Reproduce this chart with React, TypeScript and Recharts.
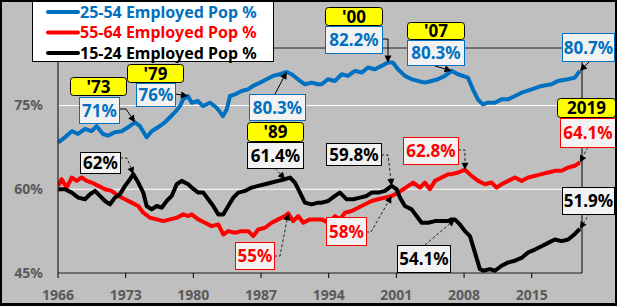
import React from 'react';
import { LineChart, Line, XAxis, YAxis, CartesianGrid, ReferenceLine, ReferenceDot } from 'recharts';

// ---------- data (year, employment-population ratio %) ----------
const emp2554: [number, number][] = [
  [1966.03, 68.4], [1966.72, 69.3], [1967.42, 70.4], [1968.07, 69.9], [1968.79, 70.8], [1969.48, 70.4],
  [1970.0, 71.3], [1970.65, 69.9], [1971.17, 69.6], [1971.89, 70.2], [1972.59, 70.4], [1973.24, 71.1],
  [1973.96, 72.0], [1974.48, 71.3], [1974.79, 70.4], [1975.17, 69.3], [1975.69, 70.4], [1976.34, 71.1],
  [1977.06, 72.0], [1977.58, 72.9], [1978.1, 73.8], [1978.62, 74.9], [1978.93, 76.1], [1979.44, 76.7],
  [1979.83, 75.5], [1980.48, 75.8], [1981.0, 74.9], [1981.72, 75.5], [1982.41, 74.6], [1983.06, 73.1],
  [1983.45, 74.3], [1983.79, 76.7], [1984.3, 77.0], [1985.0, 77.6], [1985.65, 77.9], [1986.17, 78.5],
  [1986.89, 79.1], [1987.58, 79.7], [1988.23, 80.3], [1988.96, 80.6], [1989.65, 81.0], [1990.17, 80.6],
  [1990.82, 79.7], [1991.54, 78.8], [1992.24, 79.1], [1992.89, 78.8], [1993.27, 78.8], [1993.92, 79.7],
  [1994.65, 79.4], [1995.34, 80.6], [1995.99, 80.3], [1996.71, 81.2], [1997.41, 80.9], [1998.06, 81.8],
  [1998.78, 81.5], [1999.47, 82.1], [2000.13, 82.7], [2000.64, 82.7], [2001.16, 81.5], [2001.88, 80.3],
  [2002.58, 79.7], [2003.23, 79.4], [2003.95, 79.1], [2004.64, 79.4], [2005.3, 79.7], [2006.02, 80.3],
  [2006.71, 81.2], [2007.37, 80.6], [2008.4, 80.0], [2008.92, 77.9], [2009.43, 76.1], [2009.95, 75.2],
  [2010.47, 75.5], [2011.19, 75.5], [2011.88, 76.1], [2012.54, 76.1], [2013.26, 76.7], [2013.95, 77.3],
  [2014.99, 77.9], [2016.02, 78.5], [2017.05, 78.8], [2017.7, 79.4], [2018.74, 79.7], [2019.46, 80.0],
  [2019.98, 81.2],
];

const emp5564: [number, number][] = [
  [1966.03, 60.6], [1966.38, 61.8], [1966.9, 60.3], [1967.42, 62.1], [1967.93, 61.5], [1968.45, 62.1],
  [1968.97, 61.5], [1969.48, 61.2], [1970.17, 60.6], [1970.86, 60.0], [1971.55, 59.7], [1972.24, 58.8],
  [1972.93, 58.2], [1973.62, 57.6], [1974.3, 57.0], [1974.82, 55.8], [1975.51, 54.9], [1976.21, 54.6],
  [1976.89, 54.3], [1977.58, 54.6], [1978.28, 54.9], [1978.96, 55.5], [1979.47, 55.2], [1979.83, 55.5],
  [1980.51, 54.6], [1981.2, 54.0], [1981.89, 53.4], [1982.58, 53.7], [1983.09, 51.9], [1983.61, 52.5],
  [1984.3, 52.2], [1985.0, 52.5], [1985.68, 52.5], [1986.2, 51.6], [1986.71, 52.8], [1987.41, 53.1],
  [1988.1, 54.0], [1988.78, 54.6], [1989.47, 55.2], [1989.82, 55.7], [1990.33, 54.3], [1990.85, 55.2],
  [1991.37, 54.0], [1992.06, 54.6], [1992.75, 54.6], [1993.27, 54.6], [1993.95, 54.0], [1994.65, 55.2],
  [1995.16, 54.6], [1995.68, 55.8], [1996.37, 56.1], [1997.05, 56.7], [1997.75, 57.3], [1998.44, 57.9],
  [1999.12, 58.2], [1999.82, 58.5], [2000.51, 58.8], [2001.19, 59.4], [2001.71, 60.0], [2002.23, 60.6],
  [2002.74, 61.2], [2003.44, 60.3], [2003.95, 61.2], [2004.47, 60.0], [2004.99, 61.5], [2005.68, 62.1],
  [2006.36, 62.7], [2006.71, 62.7], [2007.4, 63.0], [2008.09, 63.5], [2008.78, 62.4], [2009.46, 61.5],
  [2010.16, 60.9], [2010.85, 61.2], [2011.37, 60.3], [2011.88, 60.9], [2012.57, 61.5], [2013.26, 62.1],
  [2013.95, 61.5], [2014.64, 62.1], [2015.33, 62.4], [2016.02, 62.7], [2016.7, 63.0], [2017.4, 63.3],
  [2018.09, 63.3], [2018.77, 63.9], [2019.46, 64.2], [2019.98, 64.8],
];

const emp1524: [number, number][] = [
  [1966.03, 60.0], [1966.72, 60.0], [1967.42, 59.4], [1968.1, 58.5], [1968.79, 58.2], [1969.31, 59.1],
  [1969.83, 59.7], [1970.34, 58.8], [1970.86, 57.9], [1971.38, 57.3], [1971.89, 58.5], [1972.41, 59.1],
  [1972.93, 60.6], [1973.45, 61.8], [1973.79, 62.7], [1974.3, 61.2], [1974.82, 59.4], [1975.17, 57.0],
  [1975.69, 56.4], [1976.21, 57.0], [1976.72, 56.7], [1977.24, 57.9], [1977.76, 58.8], [1978.28, 60.9],
  [1978.79, 61.5], [1979.47, 60.9], [1979.83, 60.3], [1980.51, 59.4], [1981.03, 59.4], [1981.54, 58.2],
  [1982.06, 57.0], [1982.58, 55.5], [1983.09, 55.5], [1983.61, 57.0], [1984.13, 58.5], [1984.65, 59.4],
  [1985.34, 59.7], [1986.03, 60.3], [1986.71, 60.6], [1987.41, 60.9], [1988.1, 61.2], [1988.78, 61.5],
  [1989.47, 61.8], [1989.99, 62.1], [1990.51, 61.2], [1991.03, 59.4], [1991.54, 57.6], [1992.24, 57.3],
  [1992.92, 57.6], [1993.27, 57.6], [1993.95, 57.9], [1994.65, 58.8], [1995.16, 59.4], [1995.86, 58.2],
  [1996.54, 58.2], [1997.23, 58.5], [1997.92, 58.8], [1998.44, 59.4], [1999.12, 59.4], [1999.82, 59.7],
  [2000.51, 60.6], [2001.03, 60.0], [2001.37, 58.5], [2001.88, 57.0], [2002.58, 56.4], [2003.09, 55.2],
  [2003.61, 54.0], [2004.29, 54.0], [2004.99, 54.3], [2005.68, 54.3], [2006.36, 54.3], [2006.71, 54.6],
  [2007.05, 54.6], [2007.57, 53.7], [2008.09, 52.5], [2008.61, 51.6], [2009.12, 48.7], [2009.64, 45.7],
  [2009.98, 45.4], [2010.67, 45.7], [2011.19, 45.4], [2011.88, 46.3], [2012.57, 46.9], [2013.26, 47.2],
  [2013.95, 47.7], [2014.64, 48.7], [2015.33, 49.2], [2016.02, 49.8], [2016.7, 50.4], [2017.4, 51.0],
  [2018.09, 50.7], [2018.77, 51.0], [2019.46, 52.0], [2019.98, 52.9],
];

const seriesNames = ['25-54 Employed Pop %', '55-64 Employed Pop %', '15-24 Employed Pop %'];
const seriesColors = ['#0070C0', '#FF0000', '#000000'];
const seriesPoints = [emp2554, emp5564, emp1524];

const xTicks = [1966, 1973, 1980, 1987, 1994, 2001, 2008, 2015];
const yTicks = [45, 60, 75];
const xDomain: [number, number] = [1966, 2020.2];
const yDomain: [number, number] = [45, 85.3];

// ---------- annotations ----------
type Rect = [number, number, number, number];
type Callout = {
  series: number; year: number; label: string; box: Rect;
  tag?: string; tagBox?: Rect; path: [number, number][]; dashed: boolean;
};

const callouts: Callout[] = [
  { series: 0, year: 1973.96, tag: "'73", tagBox: [70, 77, 56, 18], label: '71%', box: [79, 97, 40, 26], path: [[119, 109], [126, 109]], dashed: false },
  { series: 0, year: 1979.44, tag: "'79", tagBox: [127, 64, 56, 18], label: '76%', box: [136, 83, 39, 23], path: [[175, 94], [182, 95]], dashed: false },
  { series: 0, year: 1989.65, label: '80.3%', box: [249, 94, 56, 26], path: [[275, 94]], dashed: false },
  { series: 2, year: 1989.47, tag: "'89", tagBox: [247, 122, 56, 19], label: '61.4%', box: [247, 142, 56, 26], path: [[275, 168]], dashed: true },
  { series: 2, year: 1973.79, label: '62%', box: [80, 152, 40, 21], path: [[120, 158], [127, 158]], dashed: true },
  { series: 1, year: 1989.82, label: '55%', box: [235, 242, 39, 27], path: [[274, 256], [280, 256]], dashed: true },
  { series: 1, year: 2000.51, label: '58%', box: [326, 217, 40, 28], path: [[366, 232], [371, 232]], dashed: true },
  { series: 2, year: 2000.51, label: '59.8%', box: [326, 143, 55, 22], path: [[381, 155], [388, 155]], dashed: true },
  { series: 1, year: 2008.09, label: '62.8%', box: [403, 137, 55, 27], path: [[458, 150], [465, 150]], dashed: true },
  { series: 2, year: 2007.05, label: '54.1%', box: [397, 245, 53, 27], path: [[425, 245]], dashed: true },
  { series: 0, year: 2000.13, tag: "'00", tagBox: [325, 7, 57, 18], label: '82.2%', box: [325, 26, 57, 27], path: [[382, 39], [388, 39]], dashed: false },
  { series: 0, year: 2006.71, tag: "'07", tagBox: [407, 22, 57, 17], label: '80.3%', box: [407, 40, 57, 25], path: [[435, 66]], dashed: false },
  { series: 0, year: 2019.98, label: '80.7%', box: [562, 33, 52, 28], path: [[590, 61]], dashed: false },
  { series: 1, year: 2019.98, tag: '2019', tagBox: [557, 98, 58, 19], label: '64.1%', box: [560, 118, 55, 29], path: [[588, 147]], dashed: true },
  { series: 2, year: 2019.98, label: '51.9%', box: [562, 187, 52, 27], path: [[590, 213]], dashed: true },
];

const FONT = '"Noto Sans", "Liberation Sans", Arial, sans-serif';
const BG = '#BFBFBF';
const AXIS_TEXT = '#5A5A5A';

const toData = (pts: [number, number][]) => pts.map(([year, value]) => ({ year, value }));

function valueAt(series: number, year: number): number {
  const pts = seriesPoints[series];
  let best = pts[0];
  for (const p of pts) if (Math.abs(p[0] - year) < Math.abs(best[0] - year)) best = p;
  return best[1];
}

function CalloutShape(props: any) {
  const { cx, cy, c } = props as { cx: number; cy: number; c: Callout };
  if (cx == null || cy == null) return <g />;
  const color = seriesColors[c.series];
  const pts = [...c.path];
  const [px, py] = pts[pts.length - 1];
  const ang = Math.atan2(cy - py, cx - px);
  const L = 7, Wd = 3.5;
  const bx = cx - L * Math.cos(ang);
  const by = cy - L * Math.sin(ang);
  const head = `${cx},${cy} ${bx + Wd * Math.sin(ang)},${by - Wd * Math.cos(ang)} ${bx - Wd * Math.sin(ang)},${by + Wd * Math.cos(ang)}`;
  const line = [...pts, [bx, by]].map((p) => p.join(',')).join(' ');
  const [x, y, w, h] = c.box;
  return (
    <g>
      <polyline points={line} fill="none" stroke={c.dashed ? '#262626' : '#000'} strokeWidth={1} strokeDasharray={c.dashed ? '3 2' : undefined} />
      <polygon points={head} fill="#000" />
      {c.tagBox && (
        <g>
          <rect x={c.tagBox[0] + 0.5} y={c.tagBox[1] + 0.5} width={c.tagBox[2]} height={c.tagBox[3]} rx={3} fill="#FFFF00" stroke="#000" strokeWidth={1} />
          <text x={c.tagBox[0] + c.tagBox[2] / 2 + 0.5} y={c.tagBox[1] + c.tagBox[3] / 2 + 6.5} textAnchor="middle" fontFamily={FONT} fontWeight="bold" fontSize={17} fill="#000">{c.tag}</text>
        </g>
      )}
      <rect x={x + 0.5} y={y + 0.5} width={w} height={h} fill="#F2F2F2" stroke={color} strokeWidth={1} />
      <text x={x + w / 2 + 0.5} y={y + h / 2 + 6.5} textAnchor="middle" fontFamily={FONT} fontWeight="bold" fontSize={17} fill={color}>{c.label}</text>
    </g>
  );
}

function LegendBox() {
  return (
    <svg width={243} height={63} style={{ position: 'absolute', left: 32, top: 0 }}>
      <rect x={0.5} y={0.5} width={241} height={61} fill="#FFFFFF" stroke="#000" strokeWidth={1} />
      {seriesNames.map((n, i) => {
        const cy = 12 + i * 20.5;
        return (
          <g key={n}>
            <line x1={16} y1={cy} x2={46} y2={cy} stroke={seriesColors[i]} strokeWidth={4} strokeLinecap="round" />
            <text x={48} y={cy + 5.5} fontFamily={FONT} fontWeight="bold" fontSize={16} fill={seriesColors[i]}>{n}</text>
          </g>
        );
      })}
    </svg>
  );
}

export default function App() {
  return (
    <div style={{ position: 'absolute', left: 0, top: 0, width: 617, height: 306, background: BG, overflow: 'hidden' }}>
      <LineChart width={617} height={306} margin={{ top: 48, right: 35, bottom: 3, left: 0 }} style={{ fontFamily: FONT }}>
        <CartesianGrid horizontal vertical={false} stroke="#FFFFFF" strokeWidth={1} />
        <XAxis
          type="number" dataKey="year" domain={xDomain} ticks={xTicks} allowDataOverflow
          height={30} tickSize={5} tickMargin={12}
          axisLine={{ stroke: '#000' }} tickLine={{ stroke: '#000' }}
          tick={{ fill: AXIS_TEXT, fontSize: 14, fontWeight: 'bold', fontFamily: FONT }}
        />
        <YAxis
          type="number" domain={yDomain} ticks={yTicks} allowDataOverflow width={58}
          tickSize={0} tickMargin={15} tickLine={false} axisLine={{ stroke: '#000' }}
          tickFormatter={(v: number) => `${v}%`}
          tick={{ fill: AXIS_TEXT, fontSize: 14, fontWeight: 'bold', fontFamily: FONT }}
        />
        <ReferenceLine x={xDomain[1]} stroke="#000" strokeWidth={1} ifOverflow="visible" />
        <ReferenceLine y={yDomain[1]} stroke="#000" strokeWidth={1} ifOverflow="visible" />
        {seriesPoints.map((pts, i) => (
          <Line
            key={seriesNames[i]} name={seriesNames[i]} data={toData(pts)} dataKey="value"
            type="linear" stroke={seriesColors[i]} strokeWidth={4} dot={false} activeDot={false}
            strokeLinejoin="round" isAnimationActive={false}
          />
        ))}
        {callouts.map((c, i) => (
          <ReferenceDot
            key={i} x={c.year} y={valueAt(c.series, c.year)} r={0} ifOverflow="visible"
            {...({ zIndex: 2500 } as any)}
            shape={(p: any) => <CalloutShape {...p} c={c} />}
          />
        ))}
      </LineChart>
      <LegendBox />
      <div style={{ position: 'absolute', left: 0, top: 0, width: 617, height: 306, border: '2px solid #000', borderBottomWidth: 3, boxSizing: 'border-box', pointerEvents: 'none' }} />
    </div>
  );
}
